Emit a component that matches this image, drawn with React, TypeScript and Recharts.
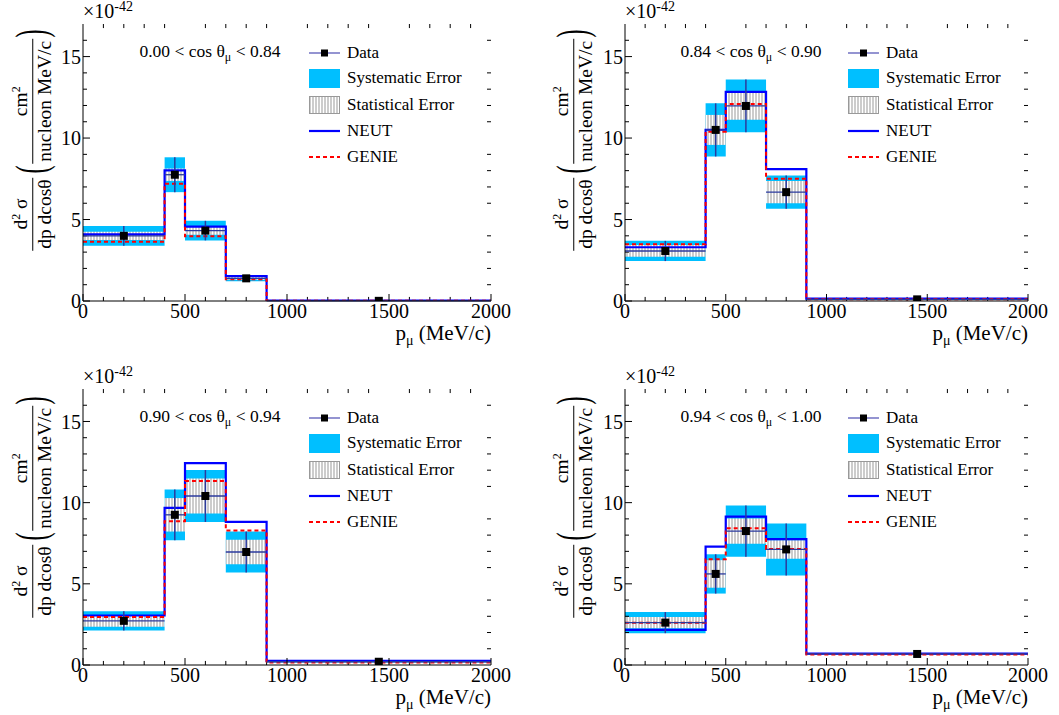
import React from 'react'
import {
  ComposedChart,
  XAxis,
  YAxis,
  Line,
  Scatter,
  ErrorBar,
  ReferenceArea,
  ReferenceLine,
} from 'recharts'

// binning in p_mu (MeV/c)
const EDGES = [0, 400, 500, 700, 900, 2000]
const CENTERS = [200, 450, 600, 800, 1450]

const X_TICKS = [0, 500, 1000, 1500, 2000]
const Y_TICKS = [0, 5, 10, 15]
const X_MINOR = [100, 200, 300, 400, 600, 700, 800, 900, 1100, 1200, 1300, 1400, 1600, 1700, 1800, 1900]
const Y_MINOR = [1, 2, 3, 4, 6, 7, 8, 9, 11, 12, 13, 14, 16]

const COS_LO = ['0.00', '0.84', '0.90', '0.94']
const COS_HI = ['0.84', '0.90', '0.94', '1.00']

// values in units of 1e-42 cm^2 / nucleon / (MeV/c)
const DATA_A = [4.0, 7.75, 4.32, 1.39, 0.01]
const STAT_A = [0.25, 0.38, 0.26, 0.08, 0.005]
const SYS_A = [0.61, 1.07, 0.6, 0.18, 0.01]
const NEUT_A = [4.09, 8.02, 4.56, 1.53, 0.03]
const GENIE_A = [3.64, 7.2, 3.97, 1.33, 0.02]

const DATA_B = [3.07, 10.5, 11.97, 6.68, 0.1]
const STAT_B = [0.36, 0.92, 0.84, 0.68, 0.01]
const SYS_B = [0.62, 1.63, 1.62, 1.02, 0.03]
const NEUT_B = [3.3, 10.51, 12.83, 8.09, 0.15]
const GENIE_B = [3.48, 10.39, 12.09, 7.5, 0.1]

const DATA_C = [2.72, 9.25, 10.41, 6.96, 0.2]
const STAT_C = [0.36, 1.03, 1.08, 0.76, 0.02]
const SYS_C = [0.59, 1.56, 1.6, 1.27, 0.04]
const NEUT_C = [3.05, 9.68, 12.43, 8.82, 0.25]
const GENIE_C = [2.95, 8.86, 11.33, 8.28, 0.15]

const DATA_D = [2.61, 5.61, 8.25, 7.12, 0.68]
const STAT_D = [0.34, 0.85, 0.78, 0.57, 0.03]
const SYS_D = [0.65, 1.21, 1.58, 1.6, 0.06]
const NEUT_D = [2.16, 7.29, 9.14, 7.75, 0.7]
const GENIE_D = [2.61, 6.51, 8.42, 7.15, 0.64]

const SYS_COLOR = '#00bfff'
const NEUT_COLOR = '#0000ff'
const GENIE_COLOR = '#ff0000'
const BAR_COLOR = '#2b3a9e'
const FONT = '"Liberation Serif", "Nimbus Roman", "Times New Roman", Times, "DejaVu Serif", serif'

interface PanelProps {
  idx: number
  col: number
  row: number
  data: number[]
  stat: number[]
  sys: number[]
  neut: number[]
  genie: number[]
}

function XTick({ x, y, payload }: any) {
  return (
    <text x={x} y={y} dy="0.71em" textAnchor="middle" fill="#000" style={{ fontFamily: FONT, fontSize: 20 }}>
      {payload.value}
    </text>
  )
}

function YTick({ x, y, payload }: any) {
  return (
    <text x={x} y={y} dy="0.355em" textAnchor="end" fill="#000" style={{ fontFamily: FONT, fontSize: 20 }}>
      {payload.value}
    </text>
  )
}

function Frac({ num, den }: { num: React.ReactNode; den: React.ReactNode }) {
  return (
    <span style={{ display: 'inline-flex', flexDirection: 'column', alignItems: 'center', lineHeight: 1 }}>
      <span style={{ padding: '0 2px 2px' }}>{num}</span>
      <span style={{ borderTop: '1.5px solid #000', padding: '2px 2px 0', alignSelf: 'stretch', textAlign: 'center' }}>{den}</span>
    </span>
  )
}

function LegendRow({ top, left, swatch, label }: { top: number; left: number; swatch: React.ReactNode; label: string }) {
  return (
    <div style={{ position: 'absolute', top: top - 11, left, height: 22, display: 'flex', alignItems: 'center', fontSize: 17, whiteSpace: 'nowrap' }}>
      <div style={{ width: 31, height: 22, display: 'flex', alignItems: 'center' }}>{swatch}</div>
      <span style={{ marginLeft: 7 }}>{label}</span>
    </div>
  )
}

function Panel({ idx, col, row, data, stat, sys, neut, genie }: PanelProps) {
  const plotLeft = col === 0 ? 83 : 95
  const plotRight = col === 0 ? 491 : 498
  const plotBottom = row === 0 ? 301 : 300
  const W = 530
  const H = 340
  const patId = `hatch${idx}`

  const steps = EDGES.map((x, i) => ({ x, neut: neut[Math.min(i, 4)], genie: genie[Math.min(i, 4)] }))
  const points = CENTERS.map((x, i) => ({ x, y: data[i], ex: (EDGES[i + 1] - EDGES[i]) / 2, ey: sys[i] }))
  const xTickLen = 4 / ((plotRight - plotLeft) / 2000)

  return (
    <div style={{ position: 'absolute', left: col * 530, top: row * 365, width: W, height: 350 }}>
      <ComposedChart
        width={W}
        height={H}
        margin={{ top: 24, left: plotLeft - 60, right: W - plotRight, bottom: H - plotBottom - 30 }}
        style={{ fontFamily: FONT }}
      >
        <defs>
          <pattern id={patId} width={3} height={6} patternUnits="userSpaceOnUse">
            <rect width={3} height={6} fill="#ffffff" />
            <line x1={1} y1={0} x2={1} y2={6} stroke="#9a9a9a" strokeWidth={1} />
          </pattern>
        </defs>
        <XAxis
          dataKey="x"
          type="number"
          domain={[0, 2000]}
          ticks={X_TICKS}
          interval={0}
          allowDataOverflow
          height={30}
          tickSize={-7}
          tickMargin={10}
          stroke="#000"
          tick={<XTick />}
        />
        <XAxis
          xAxisId="top"
          orientation="top"
          dataKey="x"
          type="number"
          domain={[0, 2000]}
          ticks={X_TICKS}
          interval={0}
          height={0}
          tickSize={-7}
          stroke="#000"
          tickFormatter={() => ''}
        />
        <YAxis
          type="number"
          domain={[0, 17]}
          ticks={Y_TICKS}
          interval={0}
          allowDataOverflow
          width={60}
          tickSize={-7}
          tickMargin={9}
          stroke="#000"
          tick={<YTick />}
        />
        <YAxis
          yAxisId="right"
          orientation="right"
          type="number"
          domain={[0, 17]}
          ticks={Y_TICKS}
          interval={0}
          width={0}
          tickSize={-7}
          stroke="#000"
          tickFormatter={() => ''}
        />

        {X_MINOR.map((v) => (
          <ReferenceLine key={`xb${v}`} segment={[{ x: v, y: 0 }, { x: v, y: 0.25 }]} stroke="#000" ifOverflow="visible" />
        ))}
        {X_MINOR.map((v) => (
          <ReferenceLine key={`xt${v}`} segment={[{ x: v, y: 17 }, { x: v, y: 16.75 }]} stroke="#000" ifOverflow="visible" />
        ))}
        {Y_MINOR.map((v) => (
          <ReferenceLine key={`yl${v}`} segment={[{ x: 0, y: v }, { x: xTickLen, y: v }]} stroke="#000" ifOverflow="visible" />
        ))}
        {Y_MINOR.map((v) => (
          <ReferenceLine key={`yr${v}`} segment={[{ x: 2000, y: v }, { x: 2000 - xTickLen, y: v }]} stroke="#000" ifOverflow="visible" />
        ))}

        {data.map((d, i) => (
          <ReferenceArea
            key={`sys${i}`}
            x1={EDGES[i]}
            x2={EDGES[i + 1]}
            y1={Math.max(0, d - sys[i])}
            y2={d + sys[i]}
            fill={SYS_COLOR}
            fillOpacity={1}
            stroke="none"
            ifOverflow="hidden"
          />
        ))}
        {data.map((d, i) => (
          <ReferenceArea
            key={`stat${i}`}
            x1={EDGES[i]}
            x2={EDGES[i + 1]}
            y1={Math.max(0, d - stat[i])}
            y2={d + stat[i]}
            fill={`url(#${patId})`}
            fillOpacity={1}
            stroke="none"
            ifOverflow="hidden"
          />
        ))}

        <Line data={steps} dataKey="neut" type="stepAfter" stroke={NEUT_COLOR} strokeWidth={2.2} dot={false} isAnimationActive={false} />
        <Line
          data={steps}
          dataKey="genie"
          type="stepAfter"
          stroke={GENIE_COLOR}
          strokeWidth={2}
          strokeDasharray="4 3"
          dot={false}
          isAnimationActive={false}
        />
        <Scatter
          data={points}
          dataKey="y"
          isAnimationActive={false}
          shape={(p: any) => <rect x={p.cx - 4} y={p.cy - 4} width={8} height={8} fill="#000" />}
        >
          <ErrorBar dataKey="ex" direction="x" width={0} stroke={BAR_COLOR} strokeWidth={1.3} />
          <ErrorBar dataKey="ey" direction="y" width={0} stroke={BAR_COLOR} strokeWidth={1.5} />
        </Scatter>
      </ComposedChart>

      {/* exponent */}
      <div style={{ position: 'absolute', left: plotLeft, top: 0, fontSize: 20, lineHeight: 1, whiteSpace: 'nowrap' }}>
        ×10<sup style={{ fontSize: 14, verticalAlign: 7 }}>-42</sup>
      </div>

      {/* y title */}
      <div
        style={{
          position: 'absolute',
          left: col === 0 ? 32 : 43,
          top: row === 0 ? 138 : 140,
          transform: 'translate(-50%, -50%) rotate(-90deg)',
          display: 'flex',
          alignItems: 'center',
          fontSize: 19.5,
          whiteSpace: 'nowrap',
        }}
      >
        <Frac num={<span>d<sup style={{ fontSize: 12 }}>2</sup> σ</span>} den={<span>dp dcosθ</span>} />
        <span style={{ fontSize: 44, fontWeight: 100, margin: '0 -2px 0 1px', lineHeight: 1, transform: 'scaleX(0.55)' }}>(</span>
        <Frac num={<span>cm<sup style={{ fontSize: 12 }}>2</sup></span>} den={<span>nucleon MeV/c</span>} />
        <span style={{ fontSize: 44, fontWeight: 100, margin: '0 1px 0 -2px', lineHeight: 1, transform: 'scaleX(0.55)' }}>)</span>
      </div>

      {/* x title */}
      <div style={{ position: 'absolute', right: W - plotRight, top: plotBottom + 22, fontSize: 21, whiteSpace: 'nowrap', lineHeight: 1 }}>
        p<sub style={{ fontSize: 14 }}>μ</sub> (MeV/c)
      </div>

      {/* cos theta range */}
      <div
        style={{
          position: 'absolute',
          left: col === 0 ? 210 : 221,
          top: 53,
          transform: 'translate(-50%, -50%)',
          fontSize: 17.5,
          whiteSpace: 'nowrap',
        }}
      >
        {COS_LO[idx]} &lt; cos θ<sub style={{ fontSize: 12 }}>μ</sub> &lt; {COS_HI[idx]}
      </div>

      {/* legend */}
      {(() => {
        const lx = col === 0 ? 309 : 318
        return (
          <>
            <LegendRow
              top={53}
              left={lx}
              label="Data"
              swatch={
                <svg width={31} height={10}>
                  <line x1={0} y1={5} x2={31} y2={5} stroke="#5a5ab8" strokeWidth={1.3} />
                  <rect x={12} y={1.5} width={7} height={7} fill="#000" />
                </svg>
              }
            />
            <LegendRow top={78} left={lx} label="Systematic Error" swatch={<div style={{ width: 31, height: 19, background: SYS_COLOR }} />} />
            <LegendRow
              top={105}
              left={lx}
              label="Statistical Error"
              swatch={
                <svg width={31} height={18}>
                  <rect x={0.5} y={0.5} width={30} height={17} fill={`url(#${patId})`} stroke="#999" strokeWidth={1} />
                </svg>
              }
            />
            <LegendRow
              top={131}
              left={lx}
              label="NEUT"
              swatch={
                <svg width={31} height={6}>
                  <line x1={0} y1={3} x2={31} y2={3} stroke={NEUT_COLOR} strokeWidth={2.2} />
                </svg>
              }
            />
            <LegendRow
              top={157}
              left={lx}
              label="GENIE"
              swatch={
                <svg width={31} height={6}>
                  <line x1={0} y1={3} x2={31} y2={3} stroke={GENIE_COLOR} strokeWidth={2} strokeDasharray="4 3" />
                </svg>
              }
            />
          </>
        )
      })()}
    </div>
  )
}

export default function App() {
  return (
    <div
      style={{
        position: 'absolute',
        left: 0,
        top: 0,
        width: 1059,
        height: 715,
        background: '#fff',
        fontFamily: FONT,
        color: '#000',
        overflow: 'hidden',
      }}
    >
      <Panel idx={0} col={0} row={0} data={DATA_A} stat={STAT_A} sys={SYS_A} neut={NEUT_A} genie={GENIE_A} />
      <Panel idx={1} col={1} row={0} data={DATA_B} stat={STAT_B} sys={SYS_B} neut={NEUT_B} genie={GENIE_B} />
      <Panel idx={2} col={0} row={1} data={DATA_C} stat={STAT_C} sys={SYS_C} neut={NEUT_C} genie={GENIE_C} />
      <Panel idx={3} col={1} row={1} data={DATA_D} stat={STAT_D} sys={SYS_D} neut={NEUT_D} genie={GENIE_D} />
    </div>
  )
}
